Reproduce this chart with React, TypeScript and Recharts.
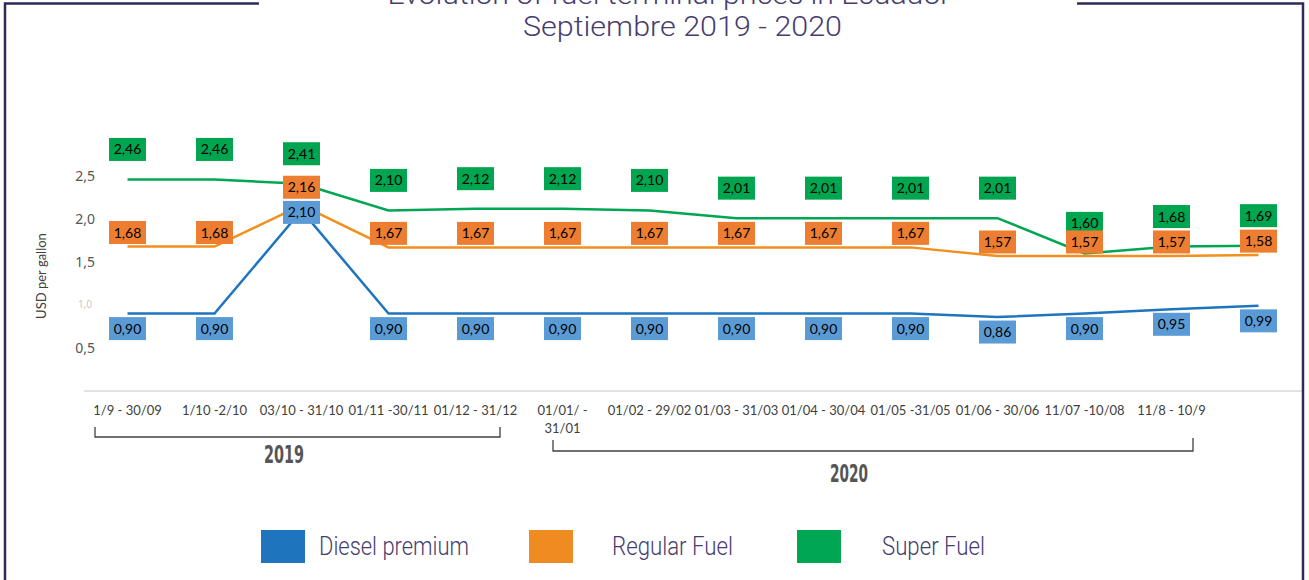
import React from 'react';
import { LineChart, Line, XAxis, YAxis, LabelList } from 'recharts';

const categories = [
  '1/9 - 30/09',
  '1/10 -2/10',
  '03/10 - 31/10',
  '01/11 -30/11',
  '01/12 - 31/12',
  '01/01/ -\n31/01',
  '01/02 - 29/02',
  '01/03 - 31/03',
  '01/04 - 30/04',
  '01/05 -31/05',
  '01/06 - 30/06',
  '11/07 -10/08',
  '11/8 - 10/9',
  '',
];
const dieselPremium = [0.9, 0.9, 2.1, 0.9, 0.9, 0.9, 0.9, 0.9, 0.9, 0.9, 0.86, 0.9, 0.95, 0.99];
const regularFuel = [1.68, 1.68, 2.16, 1.67, 1.67, 1.67, 1.67, 1.67, 1.67, 1.67, 1.57, 1.57, 1.57, 1.58];
const superFuel = [2.46, 2.46, 2.41, 2.1, 2.12, 2.12, 2.1, 2.01, 2.01, 2.01, 2.01, 1.6, 1.68, 1.69];
const yTicks = [0.5, 1, 1.5, 2, 2.5];
const seriesNames = ['Diesel premium', 'Regular Fuel', 'Super Fuel'];
const titleLines = ['Evolution of fuel terminal prices in Ecuador', 'Septiembre 2019 - 2020'];
const yearLabels = ['2019', '2020'];
const yAxisTitle = 'USD per gallon';

const data = categories.map((cat, i) => ({
  cat,
  diesel: dieselPremium[i],
  regular: regularFuel[i],
  super: superFuel[i],
}));

const fmt = (v: number) => v.toFixed(2).replace('.', ',');

const LINE_BLUE = '#1f74be';
const LINE_ORANGE = '#f0901e';
const LINE_GREEN = '#00a651';
const BOX_BLUE = '#5b9bd5';
const BOX_ORANGE = '#ed7d31';
const BOX_GREEN = '#00a550';
const PURPLE = '#463c70';
const FRAME = '#2e2a5c';

const makeLabel = (fill: string, offsetFn: (v: number) => number) => (props: any) => {
  const { x, y, value } = props;
  if (value == null) return null;
  const cy = y + offsetFn(value);
  const w = 37;
  const h = 23;
  return (
    <g>
      <rect x={x - w / 2} y={cy - h / 2} width={w} height={h} fill={fill} />
      <text
        x={x}
        y={cy + 5}
        textAnchor="middle"
        fontFamily="Lato, 'Open Sans', sans-serif"
        fontSize={14}
        fill="#000"
      >
        {fmt(value)}
      </text>
    </g>
  );
};

const superLabel = makeLabel(BOX_GREEN, () => -30);
const regularLabel = makeLabel(BOX_ORANGE, (v) => (v > 2 ? -18 : -14));
const dieselLabel = makeLabel(BOX_BLUE, (v) => (v > 1.5 ? 2 : 15));

const XTick = (props: any) => {
  const { x, y, payload } = props;
  const lines = String(payload.value).split('\n');
  return (
    <g>
      {lines.map((l, i) => (
        <text
          key={i}
          x={x}
          y={y + 16 + i * 18}
          textAnchor="middle"
          fontFamily="Lato, 'Open Sans', sans-serif"
          fontSize={13}
          fill="#404040"
        >
          {l}
        </text>
      ))}
    </g>
  );
};

const YTick = (props: any) => {
  const { y, payload } = props;
  const light = payload.value === 1;
  return (
    <text
      x={light ? 92 : 95}
      y={y + (light ? 3 : 5)}
      textAnchor="end"
      fontFamily="'Noto Sans', 'Open Sans', sans-serif"
      fontSize={light ? 10 : 14}
      fill={light ? '#c8c8c8' : '#555555'}
    >
      {String(payload.value.toFixed(1)).replace('.', ',')}
    </text>
  );
};

const legendItems = [
  { name: seriesNames[0], color: LINE_BLUE, sx: 261, tx: 319, tw: 150 },
  { name: seriesNames[1], color: '#ee8c22', sx: 529, tx: 612, tw: 121 },
  { name: seriesNames[2], color: '#00a651', sx: 797, tx: 882, tw: 103 },
];

export default function App() {
  return (
    <div style={{ position: 'absolute', left: 0, top: 0, width: 1309, height: 580, background: '#fff', overflow: 'hidden' }}>
      <LineChart
        width={1309}
        height={580}
        data={data}
        margin={{ top: 133, right: 7, bottom: 149, left: 0 }}
      >
        <XAxis
          dataKey="cat"
          interval={0}
          height={40}
          padding={{ left: 43.5, right: 43.5 }}
          tickLine={false}
          axisLine={{ stroke: '#d9d9d9', strokeWidth: 1.5 }}
          tick={<XTick />}
        />
        <YAxis
          width={84}
          domain={[0, 3]}
          ticks={yTicks}
          axisLine={false}
          tickLine={false}
          tick={<YTick />}
        />
        <Line type="linear" dataKey="super" stroke={LINE_GREEN} strokeWidth={2.5} dot={false} isAnimationActive={false}>
          <LabelList dataKey="super" content={superLabel} />
        </Line>
        <Line type="linear" dataKey="regular" stroke={LINE_ORANGE} strokeWidth={2.5} dot={false} isAnimationActive={false}>
          <LabelList dataKey="regular" content={regularLabel} />
        </Line>
        <Line type="linear" dataKey="diesel" stroke={LINE_BLUE} strokeWidth={2.5} dot={false} isAnimationActive={false}>
          <LabelList dataKey="diesel" content={dieselLabel} />
        </Line>
      </LineChart>
      <svg
        width={1309}
        height={580}
        style={{ position: 'absolute', left: 0, top: 0, pointerEvents: 'none' }}
      >
        <path d="M5 580 V3.5 H259" fill="none" stroke={FRAME} strokeWidth={2.5} />
        <path d="M1077 3.5 H1303 V580" fill="none" stroke={FRAME} strokeWidth={2.5} />
        <text
          x={669}
          y={4}
          textAnchor="middle"
          fontFamily="Roboto, 'Liberation Sans', sans-serif"
          fontWeight={300}
          fontSize={28}
          fill={PURPLE}
          textLength={563}
          lengthAdjust="spacingAndGlyphs"
        >
          {titleLines[0]}
        </text>
        <text
          x={682.5}
          y={36}
          textAnchor="middle"
          fontFamily="Roboto, 'Liberation Sans', sans-serif"
          fontWeight={300}
          fontSize={28}
          fill={PURPLE}
          textLength={319}
          lengthAdjust="spacingAndGlyphs"
        >
          {titleLines[1]}
        </text>
        <text
          transform="translate(46 276) rotate(-90)"
          textAnchor="middle"
          fontFamily="Lato, 'Open Sans', sans-serif"
          fontSize={13}
          fill="#404040"
        >
          {yAxisTitle}
        </text>
        <path d="M95 427 V437 H500 V427" fill="none" stroke="#404040" strokeWidth={1.3} />
        <path d="M553 440 V451 H1193 V438" fill="none" stroke="#404040" strokeWidth={1.3} />
        <text
          x={284}
          y={463}
          textAnchor="middle"
          fontFamily="'DejaVu Sans Condensed', 'Roboto', sans-serif"
          fontWeight={700}
          fontSize={24}
          fill="#555555"
          textLength={40}
          lengthAdjust="spacingAndGlyphs"
        >
          {yearLabels[0]}
        </text>
        <text
          x={849}
          y={482}
          textAnchor="middle"
          fontFamily="'DejaVu Sans Condensed', 'Roboto', sans-serif"
          fontWeight={700}
          fontSize={24}
          fill="#555555"
          textLength={38}
          lengthAdjust="spacingAndGlyphs"
        >
          {yearLabels[1]}
        </text>
        {legendItems.map((it) => (
          <g key={it.name}>
            <rect x={it.sx} y={530} width={44} height={33} fill={it.color} />
            <text
              x={it.tx}
              y={555}
              fontFamily="Roboto, 'Liberation Sans', sans-serif"
              fontWeight={300}
              fontSize={25}
              fill={PURPLE}
              textLength={it.tw}
              lengthAdjust="spacingAndGlyphs"
            >
              {it.name}
            </text>
          </g>
        ))}
      </svg>
    </div>
  );
}
